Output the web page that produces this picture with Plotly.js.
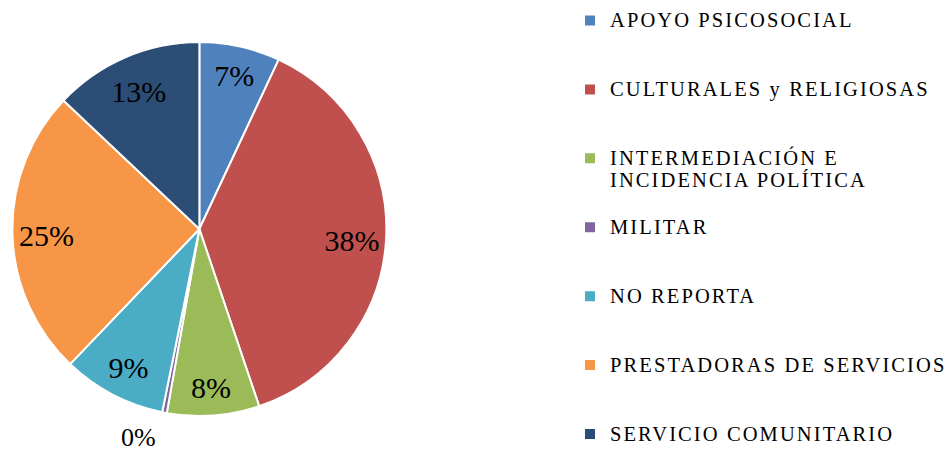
<!DOCTYPE html>
<html>
<head>
<meta charset="utf-8">
<script src="https://cdn.plot.ly/plotly-3.0.1.min.js"></script>
<style>html,body{margin:0;padding:0;background:#fff;}#chart{width:952px;height:452px;}</style>
</head>
<body>
<div id="chart"></div>
<script>
// Data
const categories = [
  'APOYO PSICOSOCIAL',
  'CULTURALES y RELIGIOSAS',
  'INTERMEDIACIÓN E<br>INCIDENCIA POLÍTICA',
  'MILITAR',
  'NO REPORTA',
  'PRESTADORAS DE SERVICIOS',
  'SERVICIO COMUNITARIO'
];
const values = [7, 38, 8, 0.4, 9, 25, 13];
const colors = ['#4F81BD', '#C0504D', '#9BBB59', '#8064A2', '#4BACC6', '#F79646', '#2C4D75'];
const textPositions = ['inside', 'inside', 'inside', 'outside', 'inside', 'inside', 'inside'];

const SERIF = 'Times New Roman, Liberation Serif, serif';
// Legend label formatting (text first, blank lines after give the wide spacing)
const NB = '\u00a0';
function fmt(line) {
  return '<span style="font-family:Times New Roman,serif;font-size:20.5px;letter-spacing:2.1px">' + line + '</span>';
}
const legendLabels = categories.map((c, i) => {
  const lines = c.split('<br>').map(fmt);
  const minLines = i === categories.length - 1 ? 1 : 3;
  while (lines.length < minLines) lines.push(NB);
  return lines.join('<br>');
});

// Visible pie with white separators
const pieTrace = {
  type: 'pie',
  labels: legendLabels,
  values: values,
  sort: false,
  direction: 'clockwise',
  rotation: 0,
  marker: { colors: colors, line: { color: '#ffffff', width: 2 } },
  textinfo: 'none',
  hoverinfo: 'skip',
  domain: { x: [12/952, 388/952], y: [36/452, 410/452] },
  showlegend: true
};

// Transparent ring carrying the percentage labels at ~0.8 radius
const labelTrace = {
  type: 'pie',
  labels: legendLabels,
  values: values,
  sort: false,
  direction: 'clockwise',
  rotation: 0,
  hole: 0.57,
  marker: { colors: values.map(() => 'rgba(0,0,0,0)'), line: { width: 0 } },
  texttemplate: '%{percent:.0%}',
  textposition: textPositions,
  insidetextorientation: 'horizontal',
  textfont: { family: SERIF, size: 30, color: '#000000' },
  outsidetextfont: { family: SERIF, size: 26, color: '#000000' },
  hoverinfo: 'skip',
  domain: { x: [4.6/952, 395.4/952], y: [0.0545, 0.9191] },
  showlegend: false
};

const layout = {
  width: 952,
  height: 452,
  margin: { l: 0, r: 0, t: 0, b: 0 },
  paper_bgcolor: '#ffffff',
  plot_bgcolor: '#ffffff',
  font: { family: SERIF, color: '#000000' },
  showlegend: true,
  legend: {
    x: 572/952,
    xanchor: 'left',
    y: 1 - 3/452,
    yanchor: 'top',
    valign: 'top',
    maxheight: 700,
    font: { family: SERIF, size: 16.9, color: '#000000' },
    bgcolor: 'rgba(0,0,0,0)'
  }
};

Plotly.newPlot('chart', [pieTrace, labelTrace], layout, { staticPlot: true, displayModeBar: false });
</script>
</body>
</html>
